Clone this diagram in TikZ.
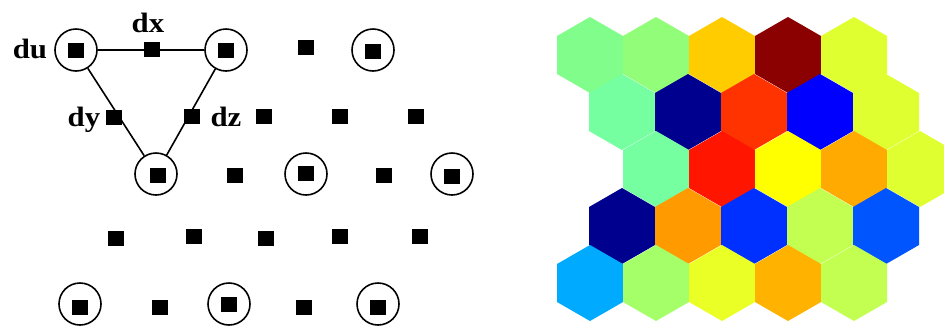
\documentclass[tikz,border=0pt]{standalone}
\usepackage{fontspec}
\setmainfont{Liberation Serif}
\definecolor{cA}{HTML}{80FD8A}
\definecolor{cB}{HTML}{92FD78}
\definecolor{cC}{HTML}{FFCC00}
\definecolor{cD}{HTML}{8B0000}
\definecolor{cE}{HTML}{DFFF30}
\definecolor{cF}{HTML}{75FFA0}
\definecolor{cG}{HTML}{00008F}
\definecolor{cH}{HTML}{FF3300}
\definecolor{cI}{HTML}{0000FF}
\definecolor{cJ}{HTML}{FF1500}
\definecolor{cK}{HTML}{FFFF00}
\definecolor{cL}{HTML}{FFAA00}
\definecolor{cM}{HTML}{FF9A00}
\definecolor{cN}{HTML}{0030FF}
\definecolor{cO}{HTML}{C2FF50}
\definecolor{cP}{HTML}{0055FF}
\definecolor{cQ}{HTML}{00AAFF}
\definecolor{cR}{HTML}{A5FF68}
\definecolor{cS}{HTML}{EAFF25}
\definecolor{cT}{HTML}{FFB300}
\begin{document}
\begin{tikzpicture}[x=1pt,y=-1pt,
  sq/.style={rectangle,fill=black,draw=none,minimum width=16pt,minimum height=15pt,inner sep=0pt},
  ring/.style={circle,draw=black,line width=1.6pt,minimum size=42pt,inner sep=0pt},
  link/.style={line width=1.6pt},
  lbl/.style={font=\fontsize{28}{28}\selectfont\bfseries,inner sep=0pt,anchor=base,xscale=1.1}]
\useasboundingbox (0,0) rectangle (944,325);
\clip (0,0) rectangle (944,325);
% ---- left: lattice ----
% rings
\node[ring] (r1) at (76,50) {};
\node[ring] (r2) at (226,50) {};
\node[ring] (r3) at (373,50) {};
\node[ring] (r4) at (156,174) {};
\node[ring] (r5) at (306,174) {};
\node[ring] (r6) at (452,174) {};
\node[ring] (r7) at (80,304) {};
\node[ring] (r8) at (229,304) {};
\node[ring] (r9) at (378,304) {};
% connectors
\draw[link] (r1) -- (r2);
\draw[link] (r1) -- (r4);
\draw[link] (r2) -- (r4);
% squares row 1
\node[sq] (s11) at (76,50) {};
\node[sq] (s12) at (152,49) {};
\node[sq] (s13) at (226,50) {};
\node[sq] (s14) at (306,47) {};
\node[sq] (s15) at (373,51) {};
% row 2
\node[sq] (s21) at (114,117) {};
\node[sq] (s22) at (192,116) {};
\node[sq] (s23) at (264,116) {};
\node[sq] (s24) at (340,116) {};
\node[sq] (s25) at (416,116) {};
% row 3
\node[sq] (s31) at (158,175) {};
\node[sq] (s32) at (235,175) {};
\node[sq] (s33) at (306,173) {};
\node[sq] (s34) at (384,175) {};
\node[sq] (s35) at (452,176) {};
% row 4
\node[sq] (s41) at (116,238) {};
\node[sq] (s42) at (194,236) {};
\node[sq] (s43) at (266,238) {};
\node[sq] (s44) at (340,236) {};
\node[sq] (s45) at (420,236) {};
% row 5
\node[sq] (s51) at (80,307) {};
\node[sq] (s52) at (160,307) {};
\node[sq] (s53) at (229,304) {};
\node[sq] (s54) at (304,307) {};
\node[sq] (s55) at (378,307) {};
% labels
\node[lbl] (ldu) at (30,58) {du};
\node[lbl] (ldx) at (148,32) {dx};
\node[lbl] (ldy) at (84,126) {dy};
\node[lbl] (ldz) at (226,126) {dz};
% ---- right: hexagonal map ----
\foreach \cx/\cy/\col in {
  590/55/cA, 656/55/cB, 722/55/cC, 788/55/cD, 854/55/cE,
  622/112/cF, 688/112/cG, 754/112/cH, 820/112/cI, 886/112/cE,
  656/169/cF, 722/169/cJ, 788/169/cK, 854/169/cL, 920/169/cE,
  622/226/cG, 688/226/cM, 754/226/cN, 820/226/cO, 886/226/cP,
  590/283/cQ, 656/283/cR, 722/283/cS, 788/283/cT, 854/283/cO}
{
  \fill[\col] (\cx,\cy-38) -- (\cx+33,\cy-19) -- (\cx+33,\cy+19) -- (\cx,\cy+38)
    -- (\cx-33,\cy+19) -- (\cx-33,\cy-19) -- cycle;
}
\end{tikzpicture}
\end{document}
